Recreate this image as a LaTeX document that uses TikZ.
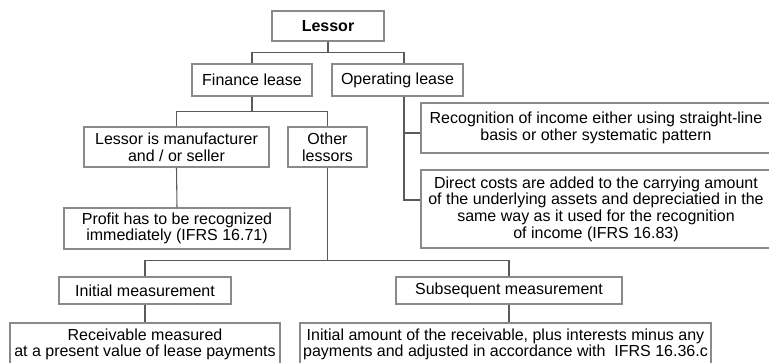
\documentclass[tikz,border=0pt]{standalone}
\usepackage{fontspec}
\setmainfont{Liberation Sans}
\usetikzlibrary{calc}
\definecolor{Frame}{HTML}{8A8A8A}
\definecolor{Wire}{HTML}{5A5A5A}
\tikzset{
 box/.style={draw=Frame,line width=.8pt,fill=white,align=center,inner sep=0pt,font=\fontsize{12}{12.5}\selectfont},
 dims/.style 2 args={minimum width=#1*.75pt,minimum height=#2*.75pt},
 link/.style={draw=Wire,line width=.8pt}
}
\begin{document}
\begin{tikzpicture}[x=.75pt,y=-.75pt]
\useasboundingbox (0,0) rectangle (769,363);
\node[box,dims={112}{30},font=\fontsize{12}{12.5}\selectfont\bfseries] (lessor) at (328,26) {Lessor};
\node[box,dims={120}{32}] (finance) at (252,80) {Finance lease};
\node[box,dims={131}{32}] (operating) at (397.5,80) {Operating lease};
\node[box,dims={185}{40}] (manuf) at (176.5,147) {Lessor is manufacturer\\and / or seller};
\node[box,dims={79}{40}] (other) at (327.5,147) {Other\\lessors};
\node[box,dims={226}{41}] (profit) at (177,228.5) {Profit has to be recognized\\immediately (IFRS 16.71)};
\node[box,dims={350}{50}] (recog) at (596,128) {Recognition of income either using straight-line\\basis or other systematic pattern};
\node[box,dims={350}{78}] (direct) at (596,209) {Direct costs are added to the carrying amount\\of the underlying assets and depreciatied in the\\same way as it used for the recognition\\of income (IFRS 16.83)};
\node[box,dims={172}{27}] (initial) at (145,290.5) {Initial measurement};
\node[box,dims={226}{27}] (subseq) at (509,290.5) {Subsequent measurement};
\node[box,dims={270}{43}] (receiv) at (145,344.5) {Receivable measured\\at a present value of lease payments};
\node[box,dims={411}{43}] (amount) at (505.5,344.5) {Initial amount of the receivable, plus interests minus any\\payments and adjusted in accordance with\ \ IFRS 16.36.c};
\draw[link] (lessor.south) -- ++(0,11) -| (finance.north);
\draw[link] (lessor.south) -- ++(0,11) -| ($(operating.north)+(6.5,0)$);
\draw[link] ($(operating.south)+(6.5,0)$) |- ($(recog.west)+(0,5)$);
\draw[link] ($(operating.south)+(6.5,0)$) |- ($(direct.west)+(0,-9)$);
\draw[link] (finance.south) -- ++(0,15) -| (manuf.north);
\draw[link] (finance.south) -- ++(0,15) -| (other.north);
\draw[link] (manuf.south) -- (profit.north);
\draw[link] (other.south) -- ++(0,93) -| (initial.north);
\draw[link] (other.south) -- ++(0,93) -| (subseq.north);
\draw[link] (initial.south) -- (receiv.north);
\draw[link] (subseq.south) -- (subseq.south |- amount.north);
\end{tikzpicture}
\end{document}
